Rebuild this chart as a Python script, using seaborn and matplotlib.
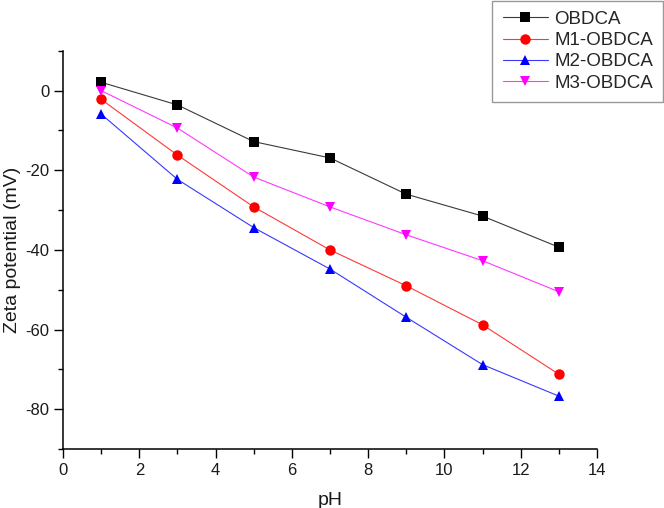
import numpy as np
import pandas as pd
import matplotlib
matplotlib.use("Agg")
import matplotlib.pyplot as plt
import seaborn as sns
from matplotlib.ticker import MultipleLocator

ph = [1, 3, 5, 7, 9, 11, 13]
obdca = [2.1, -3.6, -12.8, -16.9, -26.0, -31.5, -39.3]
m1_obdca = [-2.2, -16.2, -29.2, -40.0, -49.0, -58.8, -71.2]
m2_obdca = [-5.9, -22.3, -34.4, -44.8, -56.9, -68.8, -76.7]
m3_obdca = [0.0, -9.4, -21.7, -29.2, -36.2, -42.7, -50.5]
series_names = ["OBDCA", "M1-OBDCA", "M2-OBDCA", "M3-OBDCA"]

sns.set_style("ticks")
plt.rcParams['font.family'] = ['Liberation Sans', 'DejaVu Sans']
plt.rcParams['axes.unicode_minus'] = False

rows = []
for name, vals in zip(series_names, [obdca, m1_obdca, m2_obdca, m3_obdca]):
    for x, y in zip(ph, vals):
        rows.append({"pH": x, "Zeta": y, "Sample": name})
df = pd.DataFrame(rows)

colors = {"OBDCA": "#000000", "M1-OBDCA": "#ff0000", "M2-OBDCA": "#0000ff", "M3-OBDCA": "#ff00ff"}
line_colors = {"OBDCA": "#3a3a3a", "M1-OBDCA": "#ff3838", "M2-OBDCA": "#3838ff", "M3-OBDCA": "#ff38ff"}
markers = {"OBDCA": "s", "M1-OBDCA": "o", "M2-OBDCA": "^", "M3-OBDCA": "v"}

fig = plt.figure(figsize=(6.64, 5.08), dpi=100)
ax = fig.add_axes([0.095, 0.116, 0.804, 0.784])

sns.lineplot(data=df, x="pH", y="Zeta", hue="Sample", style="Sample",
             palette=colors, markers=markers, dashes=False, ax=ax,
             linewidth=0.8, markersize=7.5, markeredgewidth=0, legend=True)

ax.set_xlim(0, 14)
ax.set_ylim(-90, 10)
ax.xaxis.set_major_locator(MultipleLocator(2))
ax.xaxis.set_minor_locator(MultipleLocator(1))
ax.yaxis.set_major_locator(MultipleLocator(20))
ax.yaxis.set_minor_locator(MultipleLocator(10))
ax.tick_params(which='major', length=6.5, width=1, labelsize=12, color='black', labelcolor='#1a1a1a')
ax.tick_params(which='minor', length=3.6, width=1, color='black')
for s in ['top', 'right']:
    ax.spines[s].set_visible(False)
for s in ['left', 'bottom']:
    ax.spines[s].set_linewidth(1.1)
    ax.spines[s].set_color('black')

ax.set_xlabel("pH", fontsize=14, labelpad=10, color='#1a1a1a')
ax.set_ylabel("Zeta potential (mV)", fontsize=14, labelpad=3, color='#1a1a1a')

handles, labels = ax.get_legend_handles_labels()
ax.get_legend().remove()


def restyle(line, name):
    line.set_color(line_colors[name])
    line.set_markerfacecolor(colors[name])
    line.set_markeredgecolor(colors[name])


for ln, name in zip(ax.lines, series_names):
    restyle(ln, name)
for h, name in zip(handles, labels):
    restyle(h, name)

leg = fig.legend(handles, labels, loc='upper right', bbox_to_anchor=(0.999, 0.999),
                 bbox_transform=fig.transFigure, fontsize=13.5, frameon=True,
                 fancybox=False, edgecolor='#808080', handlelength=2.4,
                 handletextpad=0.35, labelspacing=0.22, borderpad=0.55,
                 borderaxespad=0)
leg.get_frame().set_linewidth(1.0)

fig.savefig("out.png", dpi=100)
